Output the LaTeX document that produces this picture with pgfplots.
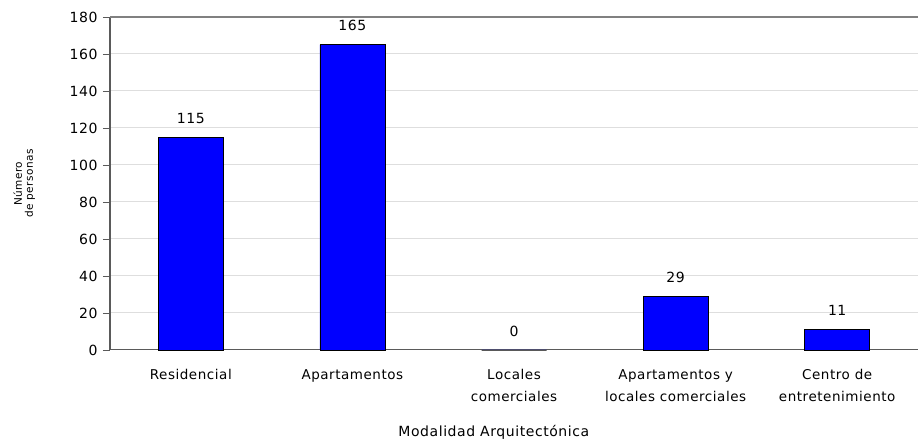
\documentclass[border=0pt]{standalone}
\usepackage{pgfplots}
\pgfplotsset{compat=1.18}
\usepackage{fontspec}
\setmainfont{DejaVu Sans}[LetterSpace=4]
\definecolor{barblue}{RGB}{0,0,255}
\definecolor{gridc}{RGB}{222,222,222}
\definecolor{axc}{RGB}{90,90,90}
\begin{document}
\begin{tikzpicture}
\begin{axis}[
  at={(110pt,96pt)}, anchor=south west,
  scale only axis, width=808pt, height=333pt,
  xmin=-0.5, xmax=4.5, ymin=0, ymax=180,
  ytick={0,20,...,180},
  xtick={0,1,2,3,4},
  xticklabels={Residencial,Apartamentos,{Locales\\comerciales},{Apartamentos y\\locales comerciales},{Centro de\\entretenimiento}},
  xticklabel style={align=center, anchor=north, yshift=-9pt, font=\fontsize{13.5}{22}\selectfont},
  yticklabel style={font=\fontsize{14}{16}\selectfont, xshift=-2pt},
  /pgf/number format/assume math mode=true,
  axis x line*=bottom, axis y line*=left,
  axis line style={axc, line width=1pt, -},
  major x tick style={draw=none},
  ytick style={axc, line width=0.8pt},
  tick align=outside, major tick length=7pt,
  extra x ticks={0.5,1.5,2.5,3.5},
  extra x tick labels={},
  extra x tick style={major tick length=5pt, tick style={axc, line width=0.8pt}, grid=none},
  ymajorgrids, grid style={gridc, line width=1pt},
  ybar, bar width=65pt,
  nodes near coords,
  nodes near coords style={font=\fontsize{14}{16}\selectfont, anchor=south, yshift=10pt},
  xlabel={Modalidad Arquitectónica},
  xlabel style={font=\fontsize{14}{16}\selectfont, at={(rel axis cs:0.475,0)}, anchor=north, yshift=-72pt},
  ylabel={\begin{tabular}{c}Número\\[-1pt] de personas\end{tabular}},
  ylabel style={font=\fontsize{10.5}{12}\selectfont, at={(rel axis cs:0,0.5)}, anchor=south, yshift=70pt},
  clip=false,
]
\addplot[fill=barblue, draw=black, line width=0.8pt] coordinates {(0,115) (1,165) (2,0) (3,29) (4,11)};
\draw[gray, line width=1.2pt] (rel axis cs:0,1) -- (rel axis cs:1,1);
\end{axis}
\pgfresetboundingbox
\path (0,0) rectangle (918pt,446pt);
\end{tikzpicture}
\end{document}
